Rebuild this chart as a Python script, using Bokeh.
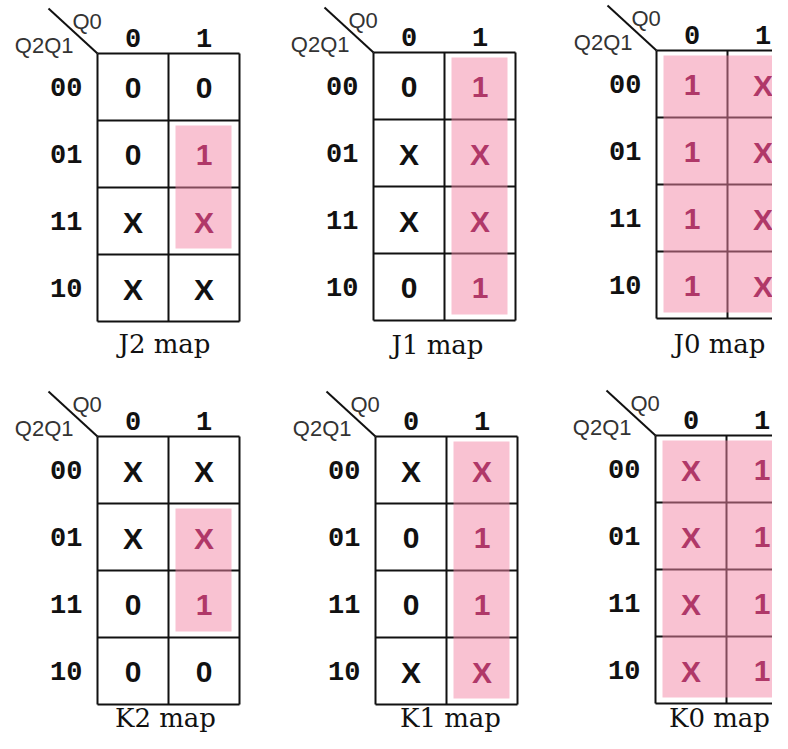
from bokeh.plotting import figure
from bokeh.models import ColumnDataSource, Range1d
from bokeh.core.properties import value
from bokeh.embed import file_html
from bokeh.resources import INLINE

# ---------------- data ----------------
map_names = ["J2", "J1", "J0", "K2", "K1", "K0"]
row_labels = ["00", "01", "11", "10"]
col_labels = ["0", "1"]
row_var = "Q2Q1"
col_var = "Q0"

# cell values, row-major (rows 00, 01, 11, 10; columns Q0=0, Q0=1)
J2_vals = ["0", "0", "0", "1", "X", "X", "X", "X"]
J1_vals = ["0", "1", "X", "X", "X", "X", "0", "1"]
J0_vals = ["1", "X", "1", "X", "1", "X", "1", "X"]
K2_vals = ["X", "X", "X", "X", "0", "1", "0", "0"]
K1_vals = ["X", "X", "0", "1", "0", "1", "X", "X"]
K0_vals = ["X", "1", "X", "1", "X", "1", "X", "1"]
values = {"J2": J2_vals, "J1": J1_vals, "J0": J0_vals,
          "K2": K2_vals, "K1": K1_vals, "K0": K0_vals}

# grouped region: first row, last row, first col, last col
groups = {"J2": (1, 2, 1, 1), "J1": (0, 3, 1, 1), "J0": (0, 3, 0, 1),
          "K2": (1, 2, 1, 1), "K1": (0, 3, 1, 1), "K0": (0, 3, 0, 1)}

# ---------------- layout (pixel frame of the picture) ----------------
CW, CH = 71, 67
origins = {"J2": (97, 53), "J1": (373, 52), "J0": (656, 50),
           "K2": (97, 436), "K1": (375, 436), "K0": (655, 435)}
title_pos = {"J2": (164, 343), "J1": (437, 344), "J0": (719, 343),
             "K2": (165, 717), "K1": (450, 717), "K0": (719, 717)}
ins_l, ins_r, ins_t, ins_b = 7, 8, 5, 6

BLACK = "#111111"
PINK_TXT = "#b03868"

W, H = 772, 733
p = figure(width=W, height=H, x_range=Range1d(0, W), y_range=Range1d(H, 0),
           output_backend="svg", toolbar_location=None, min_border=0)
p.axis.visible = False
p.grid.visible = False
p.outline_line_color = None
p.background_fill_color = "white"
p.border_fill_color = "white"

seg = dict(x0=[], y0=[], x1=[], y1=[])
quad = dict(left=[], right=[], top=[], bottom=[])
cells = dict(x=[], y=[], t=[], c=[])
rlab = dict(x=[], y=[], t=[])
clab = dict(x=[], y=[], t=[])
qv0 = dict(x=[], y=[], t=[])
qv1 = dict(x=[], y=[], t=[])
titles = dict(x=[], y=[], t=[])

for name in map_names:
    x0, y0 = origins[name]
    nr, nc = len(row_labels), len(col_labels)
    for r in range(nr + 1):
        seg["x0"].append(x0); seg["x1"].append(x0 + nc * CW)
        seg["y0"].append(y0 + r * CH); seg["y1"].append(y0 + r * CH)
    for c in range(nc + 1):
        seg["x0"].append(x0 + c * CW); seg["x1"].append(x0 + c * CW)
        seg["y0"].append(y0); seg["y1"].append(y0 + nr * CH)
    # diagonal
    seg["x0"].append(x0 - 49); seg["y0"].append(y0 - 45)
    seg["x1"].append(x0); seg["y1"].append(y0)

    r0, r1, c0, c1 = groups[name]
    quad["left"].append(x0 + c0 * CW + ins_l)
    quad["right"].append(x0 + (c1 + 1) * CW - ins_r)
    quad["top"].append(y0 + r0 * CH + ins_t)
    quad["bottom"].append(y0 + (r1 + 1) * CH - ins_b)

    vals = values[name]
    for r in range(nr):
        for c in range(nc):
            cells["x"].append(x0 + c * CW + CW / 2)
            cells["y"].append(y0 + r * CH + CH / 2 + 1)
            cells["t"].append(vals[r * nc + c])
            inside = r0 <= r <= r1 and c0 <= c <= c1
            cells["c"].append(PINK_TXT if inside else BLACK)
        rlab["x"].append(x0 - 15)
        rlab["y"].append(y0 + r * CH + CH / 2)
        rlab["t"].append(row_labels[r])
    for c in range(nc):
        clab["x"].append(x0 + c * CW + CW / 2)
        clab["y"].append(y0 - 16)
        clab["t"].append(col_labels[c])
    qv0["x"].append(x0 - 25); qv0["y"].append(y0 - 32); qv0["t"].append(col_var)
    qv1["x"].append(x0 - 24); qv1["y"].append(y0 - 8); qv1["t"].append(row_var)
    tx, ty = title_pos[name]
    titles["x"].append(tx)
    titles["y"].append(ty)
    titles["t"].append(name + " map")

p.segment(x0="x0", y0="y0", x1="x1", y1="y1", source=ColumnDataSource(seg),
          line_color=BLACK, line_width=2)
p.quad(left="left", right="right", top="top", bottom="bottom",
       source=ColumnDataSource(quad), fill_color="#f385a5", fill_alpha=0.5,
       line_color=None)
p.text(x="x", y="y", text="t", text_color="c", source=ColumnDataSource(cells),
       text_font=value("Liberation Sans"), text_font_style="bold",
       text_font_size="30px", text_align="center", text_baseline="middle")
p.text(x="x", y="y", text="t", source=ColumnDataSource(rlab),
       text_font=value("Liberation Mono"), text_font_style="bold",
       text_font_size="27px", text_color=BLACK,
       text_align="right", text_baseline="middle")
p.text(x="x", y="y", text="t", source=ColumnDataSource(clab),
       text_font=value("Liberation Mono"), text_font_style="bold",
       text_font_size="27px", text_color=BLACK,
       text_align="center", text_baseline="middle")
p.text(x="x", y="y", text="t", source=ColumnDataSource(qv0),
       text_font=value("Liberation Sans"), text_font_size="22px",
       text_color="#333333", text_align="left", text_baseline="middle")
p.text(x="x", y="y", text="t", source=ColumnDataSource(qv1),
       text_font=value("Liberation Sans"), text_font_size="22px",
       text_color="#333333", text_align="right", text_baseline="middle")
p.text(x="x", y="y", text="t", source=ColumnDataSource(titles),
       text_font=value("DejaVu Serif"), text_font_size="26px",
       text_color=BLACK, text_align="center", text_baseline="middle")

open("out.html", "w").write(file_html(p, INLINE))
